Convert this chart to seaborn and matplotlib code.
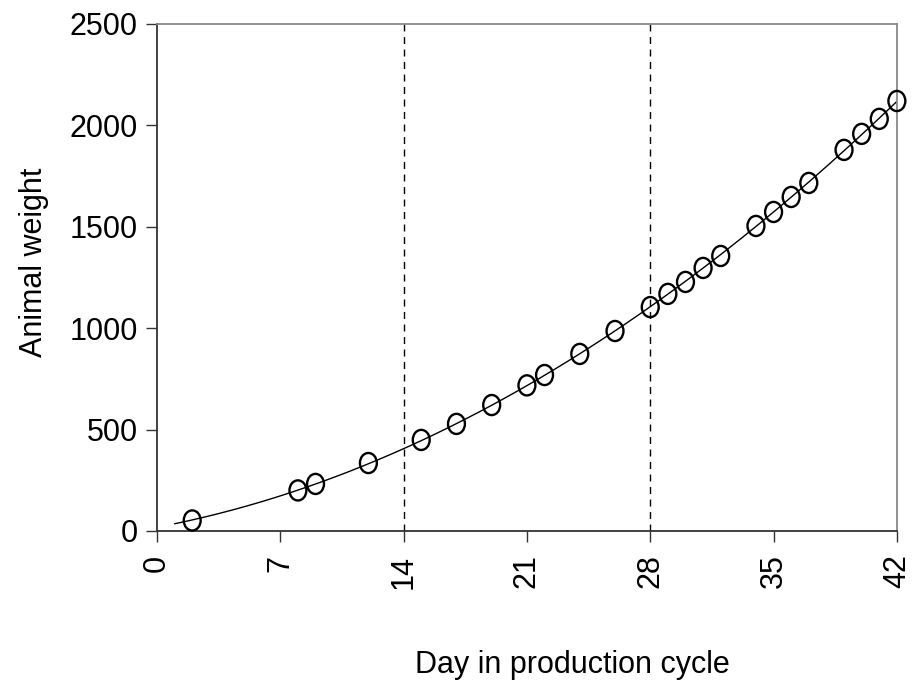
import numpy as np
import pandas as pd
import matplotlib
matplotlib.use("Agg")
import matplotlib.pyplot as plt
from matplotlib.path import Path
import seaborn as sns

# observed weights
days = [2, 8, 9, 12, 15, 17, 19, 21, 22, 24, 26, 28, 29, 30, 31, 32, 34, 35, 36, 37, 39, 40, 41, 42]
weights = [52, 200, 232, 335, 449, 528, 621, 718, 769, 873, 986, 1104, 1169, 1228, 1297, 1356,
           1504, 1573, 1647, 1716, 1879, 1958, 2032, 2120]
phase_days = [14, 28]
xticks = [0, 7, 14, 21, 28, 35, 42]
yticks = [0, 500, 1000, 1500, 2000, 2500]

df = pd.DataFrame({'day': days, 'weight': weights})

# quadratic growth fit through the observations
coef = np.polyfit(days, weights, 2)
fit_days = np.linspace(1, 42, 200)
fit_df = pd.DataFrame({'day': fit_days, 'weight': np.polyval(coef, fit_days)})

# slightly tall open ellipse as marker
circ = Path.unit_circle()
ellipse = Path(circ.vertices * np.array([0.84, 1.0]), circ.codes)

sns.set_style("white")
plt.rcParams['font.family'] = ['Liberation Sans', 'DejaVu Sans']
plt.rcParams['text.color'] = 'black'
plt.rcParams['axes.labelcolor'] = 'black'
plt.rcParams['xtick.color'] = '#333333'
plt.rcParams['ytick.color'] = '#333333'
plt.rcParams['xtick.labelcolor'] = 'black'
plt.rcParams['ytick.labelcolor'] = 'black'

fig = plt.figure(figsize=(9.18, 6.84), dpi=100)
ax = fig.add_axes([0.171, 0.2237, 0.806, 0.7413])

sns.lineplot(data=fit_df, x='day', y='weight', color='black', linewidth=1.0, ax=ax)
sns.scatterplot(data=df, x='day', y='weight', marker=ellipse, s=210, facecolor='none',
                edgecolor='black', linewidth=1.7, ax=ax, zorder=3, clip_on=False)

for d in phase_days:
    ax.axvline(d, color='black', linestyle=(0, (5, 4)), linewidth=1.0)

ax.set_xlim(0, 42)
ax.set_ylim(0, 2500)
ax.set_xticks(xticks)
ax.set_yticks(yticks)
ax.tick_params(axis='x', labelrotation=90, labelsize=22, length=8, width=1, direction='out', bottom=True, pad=9)
ax.tick_params(axis='y', labelsize=22, length=8, width=1, direction='out', left=True, pad=6)

for s in ['left', 'bottom']:
    ax.spines[s].set_color('#333333')
    ax.spines[s].set_linewidth(1.3)
for s in ['top', 'right']:
    ax.spines[s].set_color('#888888')
    ax.spines[s].set_linewidth(1.3)

ax.set_xlabel('Day in production cycle', fontsize=22)
ax.set_ylabel('Animal weight', fontsize=22)
ax.xaxis.set_label_coords(0.561, -0.235)
ax.yaxis.set_label_coords(-0.146, 0.53)

fig.savefig('out.png', dpi=100)
